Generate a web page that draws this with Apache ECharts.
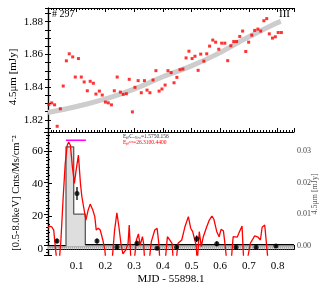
<!DOCTYPE html>
<html><head><meta charset="utf-8">
<script src="https://cdn.jsdelivr.net/npm/echarts@6/dist/echarts.min.js"></script>
<style>html,body{margin:0;padding:0;background:#fff}#c{width:327px;height:290px}</style>
</head><body><div id="c"></div>
<script>
// ---- Top panel: 4.5um IR light curve ----
const irX = [0.003,0.013,0.023,0.032,0.043,0.053,0.064,0.074,0.086,0.095,0.106,0.116,0.126,0.137,0.147,0.158,0.167,0.179,0.189,0.200,0.210,0.221,0.231,0.241,0.252,0.262,0.273,0.283,0.294,0.303,0.314,0.325,0.336,0.345,0.355,0.366,0.376,0.387,0.397,0.408,0.418,0.429,0.439,0.449,0.460,0.470,0.481,0.491,0.502,0.512,0.523,0.532,0.543,0.553,0.563,0.574,0.584,0.595,0.605,0.616,0.626,0.637,0.647,0.657,0.668,0.678,0.689,0.699,0.710,0.720,0.731,0.741,0.752,0.762,0.771,0.782,0.792,0.802,0.813];
const irY = [1.8295,1.8304,1.8292,1.8161,1.8268,1.8407,1.8561,1.8604,1.8585,1.8462,
1.8575,1.8462,1.8432,1.8378,1.8436,1.8424,1.8358,1.8376,1.8352,1.8309,
1.8304,1.8292,1.8378,1.8462,1.8370,1.8356,1.8360,1.8448,1.8249,1.8399,
1.8440,1.8366,1.8440,1.8382,1.8366,1.8444,1.8501,1.8376,1.8389,1.8413,
1.8501,1.8489,1.8427,1.8460,1.8507,1.8511,1.8579,1.8620,1.8575,1.8589,
1.8503,1.8602,1.8559,1.8604,1.8651,1.8688,1.8675,1.8632,1.8669,1.8669,
1.8562,1.8653,1.8679,1.8679,1.8710,1.8743,1.8618,1.8675,1.8718,1.8747,
1.8755,1.8743,1.8806,1.8819,1.8726,1.8700,1.8708,1.8734,1.8734];
const trendX = [0,0.1,0.2,0.3,0.4,0.5,0.6,0.685,0.784,0.811];
const trendY = [1.8245,1.8282,1.8328,1.8388,1.8464,1.8530,1.8612,1.8694,1.8782,1.8802];

// ---- Bottom panel: X-ray light curve ----
const lcX = [0,0.0045,0.0129,0.0199,0.0254,0.031,0.039,0.045,0.053,0.060,0.067,0.072,0.078,0.085,0.092,0.098,0.106,0.113,0.118,0.124,0.132,0.140,0.147,0.156,0.163,0.168,0.175,0.182,0.191,0.198,0.202,0.223,0.232,0.240,0.247,0.254,0.261,0.271,0.279,0.283,0.289,0.300,0.308,0.315,0.321,0.329,0.333,0.337,0.352,0.360,0.372,0.380,0.386,0.390,0.408,0.416,0.424,0.432,0.437,0.446,0.453,0.466,0.477,0.489,0.497,0.504,0.510,0.516,0.520,0.527,0.534,0.541,0.553,0.562,0.571,0.578,0.588,0.596,0.603,0.611,0.617,0.623,0.638,0.645,0.651,0.659,0.667,0.676,0.682,0.693,0.705,0.720,0.732,0.740,0.746,0.755,0.760,0.767];
const lcY = [12.7,14,13.6,11.6,1.4,-8,-8,5.5,32,52.4,63.6,65.6,63.6,50.3,40.2,48.3,57.5,40.2,32,32,17.7,23.9,27.5,23.9,19.8,11.6,12.7,11.6,5.5,-0.6,-8,-8,11.6,22.2,13.6,3.5,-3,-0.6,3.5,14.7,-8,-8,5.5,9.2,2.4,7.5,3.5,-8,-8,4.5,11.6,12.7,3.5,-8,-8,7.5,5.5,3.5,-8,-8,3.5,5.5,13.6,19.8,12.7,10.6,11.6,2.4,-8,10.6,1.4,7.5,13.6,17.7,20.2,18.2,10.6,7.5,12,11.2,2.4,-8,-8,7.5,8,7.2,10.6,14,-8,-8,3.5,8,7.2,5.5,13.3,14.7,14,-8];
const blockEdges = [0,0.0627,0.0895,0.130,0.857];
const blockRates = [1.4,62.6,21.4,2.6];
const binX = [0.0314,0.101,0.1707,0.2404,0.310,0.380,0.448,0.518,0.588,0.655,0.725,0.794];
const binY = [4.9,34,4.9,1.0,3.5,0.4,1.0,6.3,3.2,1.0,1.0,1.8];
const binErr = [1.5,4,1.5,1,1.5,1,1,2,1.5,1,1,1];
const flareSpan = [0.0627,0.132];
const flareLevel = 66.7;
const baseLevels = [1.4];
const dottedLevels = [0.8,0];

const XMAX = 0.857;
const FONT = 'Liberation Serif';

const stepData = [];
blockRates.forEach((r,i)=>{ stepData.push([blockEdges[i],r]); stepData.push([blockEdges[i+1],r]); });

function multipleOf(v, step){ const k=v/step; return Math.abs(k-Math.round(k))<1e-6; }

const chart = echarts.init(document.getElementById('c'), null, {renderer:'canvas'});
const axLine = {show:true, lineStyle:{color:'#000', width:1.2}};
function xAx(grid, pos, labels){
  return {type:'value', gridIndex:grid, position:pos, min:0, max:XMAX, interval:0.1,
    axisLine:axLine, splitLine:{show:false},
    axisTick:{show:true, inside:true, length:4, lineStyle:{color:'#000'}},
    minorTick:{show:true, splitNumber:10, length:2, lineStyle:{color:'#000'}},
    axisLabel:{show:labels, margin:6, fontFamily:FONT, fontSize:11, color:'#000',
      formatter:v=> (v>0.05 && multipleOf(v,0.1) && v<0.85) ? v.toFixed(1) : ''}};
}

const option = {
  animation:false,
  grid:[{left:48, top:8, width:246, height:124},{left:48, top:132, width:246, height:123}],
  xAxis:[xAx(0,'bottom',false), xAx(0,'top',false), xAx(1,'bottom',true), xAx(1,'top',false)],
  yAxis:[
    {type:'value', gridIndex:0, position:'left', min:1.8126, max:1.8884, minInterval:0.005, maxInterval:0.005,
      axisLine:axLine, splitLine:{show:false},
      axisTick:{show:true, inside:true, length:3, lineStyle:{color:'#000'}},
      axisLabel:{margin:5, fontFamily:FONT, fontSize:11, color:'#000',
        formatter:v=>{ if(!multipleOf(v,0.01)) return ''; const k=Math.round(v*100); return k%2===0? v.toFixed(2):''; }}},
    {type:'value', gridIndex:0, position:'right', min:1.8126, max:1.8884, minInterval:0.005, maxInterval:0.005,
      axisLine:axLine, splitLine:{show:false},
      axisTick:{show:true, inside:true, length:3, lineStyle:{color:'#000'}},
      axisLabel:{show:false}},
    {type:'value', gridIndex:1, position:'left', min:-3.7, max:71.7, minInterval:20, maxInterval:20,
      axisLine:axLine, splitLine:{show:false},
      axisTick:{show:true, inside:true, length:4, lineStyle:{color:'#000'}},
      minorTick:{show:true, splitNumber:4, length:2, lineStyle:{color:'#000'}},
      axisLabel:{margin:5, fontFamily:FONT, fontSize:11, color:'#000',
        formatter:v=> multipleOf(v,20) ? String(Math.round(v)) : ''}},
    {type:'value', gridIndex:1, position:'right', min:-0.00295, max:0.0361, minInterval:0.01, maxInterval:0.01,
      axisLine:axLine, splitLine:{show:false},
      axisTick:{show:true, inside:true, length:4, lineStyle:{color:'#000'}},
      minorTick:{show:true, splitNumber:10, length:2, lineStyle:{color:'#000'}},
      axisLabel:{margin:3, fontFamily:FONT, fontSize:8, color:'#444',
        formatter:v=> multipleOf(v,0.01) ? (Math.abs(v)<1e-9?0:v).toFixed(2) : ''}}
  ],
  series:[
    {type:'line', xAxisIndex:0, yAxisIndex:0, data:trendX.map((x,i)=>[x,trendY[i]]), smooth:true,
      showSymbol:false, lineStyle:{color:'#cdcdcd', width:5}, z:1},
    {type:'scatter', xAxisIndex:0, yAxisIndex:0, data:irX.map((x,i)=>[x,irY[i]]),
      symbol:'rect', symbolSize:3, itemStyle:{color:'#ff0000'}, z:3},
    // bottom panel
    {type:'line', xAxisIndex:2, yAxisIndex:2, data:stepData, showSymbol:false,
      lineStyle:{color:'#5a5a5a', width:1.3}, areaStyle:{color:'#dedede', opacity:1}, z:1},
    ...baseLevels.map(l=>({type:'line', xAxisIndex:2, yAxisIndex:2, data:[[0,l],[XMAX,l]], showSymbol:false,
      lineStyle:{color:'#aaaaaa', width:1}, z:1})),
    ...dottedLevels.map(l=>({type:'line', xAxisIndex:2, yAxisIndex:2, data:[[0,l],[XMAX,l]], showSymbol:false,
      lineStyle:{color:'#999', width:0.8, type:[1,1]}, z:1})),
    {type:'line', xAxisIndex:2, yAxisIndex:2, data:[[blockEdges[3],blockRates[3]],[XMAX,blockRates[3]]], showSymbol:false,
      lineStyle:{color:'#000', width:1.3}, z:2},
    {type:'line', xAxisIndex:2, yAxisIndex:2, data:lcX.map((x,i)=>[x,lcY[i]]), showSymbol:false,
      lineStyle:{color:'#ff0000', width:1.3}, clip:true, z:3},
    {type:'custom', xAxisIndex:2, yAxisIndex:2, data:binX.map((x,i)=>[x,binY[i],binErr[i]]), z:4,
      renderItem:(params, api)=>{
        const x=api.value(0), y=api.value(1), e=api.value(2);
        const p1=api.coord([x,y-e]), p2=api.coord([x,y+e]);
        return {type:'line', shape:{x1:p1[0],y1:p1[1],x2:p2[0],y2:p2[1]}, style:{stroke:'#000', lineWidth:1.3}};
      }},
    {type:'scatter', xAxisIndex:2, yAxisIndex:2, data:binX.map((x,i)=>[x,binY[i]]),
      symbol:'circle', symbolSize:5, itemStyle:{color:'#000'}, z:5},
    {type:'line', xAxisIndex:2, yAxisIndex:2, data:flareSpan.map(x=>[x,flareLevel]), showSymbol:false,
      lineStyle:{color:'#ff00ff', width:1.5}, z:5}
  ],
  graphic:[
    {type:'text', left:52, top:9, style:{text:'# 297', fontFamily:FONT, fontSize:10, fill:'#000'}},
    {type:'text', left:279, top:9, style:{text:'III', fontFamily:FONT, fontSize:11, fill:'#000'}},
    {type:'text', x:13, y:77, rotation:Math.PI/2, style:{text:'4.5μm [mJy]', fontFamily:FONT, fontSize:11, fill:'#000', align:'center', verticalAlign:'middle'}},
    {type:'text', x:16, y:193, rotation:Math.PI/2, style:{text:'[0.5-8.0keV] Cnts/Ms/cm⁻²', fontFamily:FONT, fontSize:10.5, fill:'#000', align:'center', verticalAlign:'middle'}},
    {type:'text', x:315, y:194, rotation:Math.PI/2, style:{text:'4.5μm [mJy]', fontFamily:FONT, fontSize:8, fill:'#555', align:'center', verticalAlign:'middle'}},
    {type:'text', x:171, y:279, style:{text:'MJD - 55898.1', fontFamily:FONT, fontSize:11, fill:'#000', align:'center', verticalAlign:'middle'}},
    {type:'text', left:123, top:134, style:{text:'EₚₗCₒₜₛ,₀=1.5750.156', fontFamily:FONT, fontSize:5.5, fill:'#333'}},
    {type:'text', left:123, top:140, style:{text:'Eₚₗᵗᵒᵗ=26.3100.4400', fontFamily:FONT, fontSize:5.5, fill:'#ff0000'}}
  ]
};
chart.setOption(option);
</script>
</body></html>
